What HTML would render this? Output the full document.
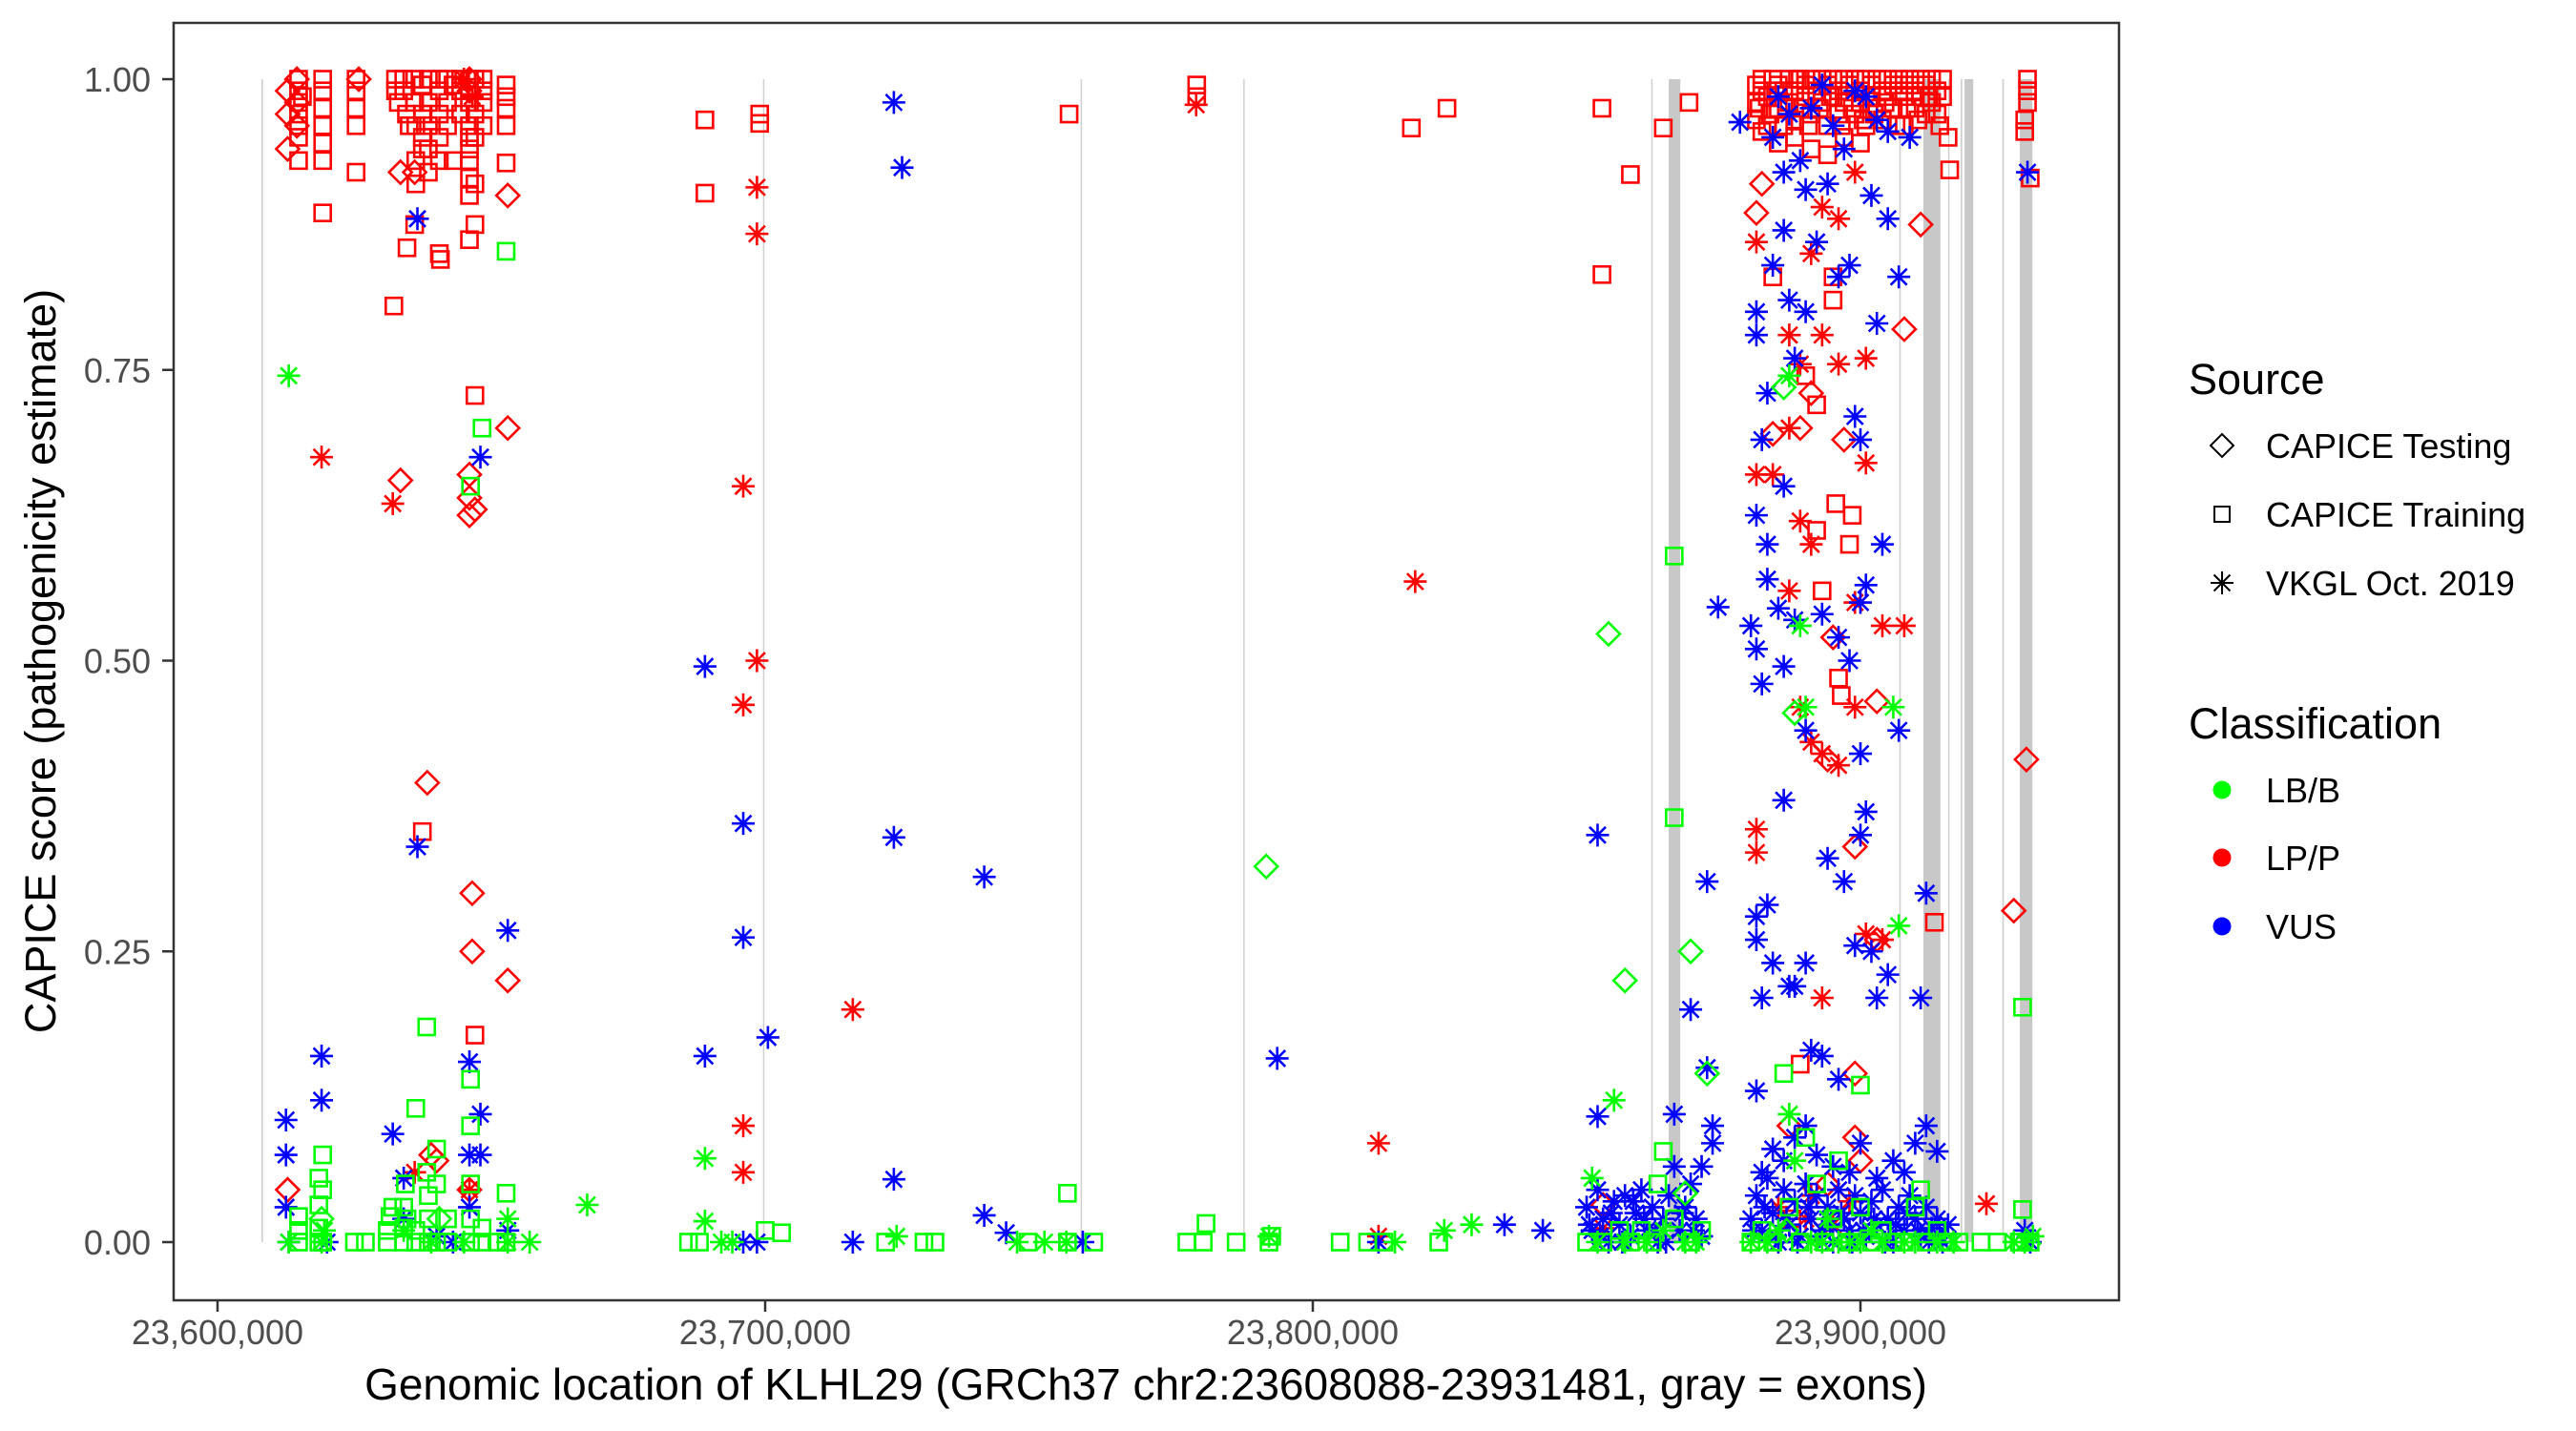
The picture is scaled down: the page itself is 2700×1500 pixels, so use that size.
<!DOCTYPE html>
<html><head><meta charset="utf-8">
<style>
html,body{margin:0;padding:0;background:#fff;}
svg{display:block;font-family:"Liberation Sans",Arial,sans-serif;}
</style></head>
<body>
<svg id="chart" width="2700" height="1500" viewBox="0 0 2700 1500" xmlns="http://www.w3.org/2000/svg">
<rect x="0" y="0" width="2700" height="1500" fill="#fff"/>
<g id="exons"></g>
<g id="points"></g>
<rect x="182" y="24" width="2039" height="1339" fill="none" stroke="#333" stroke-width="2.5"/>
<g id="yaxis"></g>
<g id="xaxis"></g>
<text transform="translate(58,693) rotate(-90)" text-anchor="middle" font-size="45" fill="#000">CAPICE score (pathogenicity estimate)</text>
<text x="1201" y="1467" text-anchor="middle" font-size="46" fill="#000">Genomic location of KLHL29 (GRCh37 chr2:23608088-23931481, gray = exons)</text>
<g>
<text x="2294" y="413" font-size="45">Source</text>
<path d="M2329 455 L2341 467 L2329 479 L2317 467 Z" fill="none" stroke="#000" stroke-width="2"/>
<text x="2375" y="480" font-size="36">CAPICE Testing</text>
<rect x="2321" y="531" width="16" height="16" fill="none" stroke="#000" stroke-width="2"/>
<text x="2375" y="552" font-size="36">CAPICE Training</text>
<path d="M2317 611 H2341 M2329 599 V623 M2320.5 602.5 L2337.5 619.5 M2337.5 602.5 L2320.5 619.5" stroke="#000" stroke-width="2"/>
<text x="2375" y="624" font-size="36">VKGL Oct. 2019</text>
</g>
<g>
<text x="2294" y="774" font-size="45">Classification</text>
<circle cx="2329" cy="828" r="9.5" fill="#00FF00"/>
<text x="2375" y="841" font-size="36">LB/B</text>
<circle cx="2329" cy="899" r="9.5" fill="#FF0000"/>
<text x="2375" y="912" font-size="36">LP/P</text>
<circle cx="2329" cy="971" r="9.5" fill="#0000FF"/>
<text x="2375" y="984" font-size="36">VUS</text>
</g>
</svg>
<script>
// ---- data (positions in kb on chr2, scores 0..1) ----
const xTicks = [23600, 23700, 23800, 23900];
const xTickLabels = ["23,600,000", "23,700,000", "23,800,000", "23,900,000"];
const yTicks = [0, 0.25, 0.5, 0.75, 1];
const yTickLabels = ["0.00", "0.25", "0.50", "0.75", "1.00"];
const exonStarts = [23608.0, 23699.6, 23757.6, 23787.3, 23861.8, 23865.0, 23907.1, 23911.5, 23916.0, 23918.3, 23919.0, 23925.9, 23929.1];
const exonEnds   = [23608.3, 23699.8, 23757.8, 23787.5, 23862.0, 23867.1, 23907.3, 23914.6, 23916.2, 23918.6, 23920.6, 23926.2, 23931.4];

const trainLP = [[23614.8,1.0],[23614.8,0.99],[23614.8,0.98],[23614.8,0.97],[23614.8,0.96],[23614.8,0.95],[23614.8,0.93],[23615.5,0.985],
[23619.2,1.0],[23619.2,0.99],[23619.2,0.975],[23619.2,0.96],[23619.2,0.945],[23619.2,0.93],[23619.2,0.885],[23625.3,1.0],[23625.3,0.99],[23625.3,0.975],[23625.3,0.96],[23625.3,0.92],
[23632.2,0.805],[23632.5,1.0],[23632.5,0.99],[23633,0.98],[23634,1.0],[23634,0.99],[23634.5,0.97],[23634.6,0.855],[23635,0.96],[23636,1.0],[23636,0.98],[23636.2,0.96],[23636.2,0.93],[23636.2,0.91],[23636,0.875],
[23637.4,0.995],[23637.4,0.97],[23637.4,0.95],[23637.4,0.94],[23637.4,0.353],[23638.5,1.0],[23638.5,0.98],[23638.5,0.96],[23638.5,0.94],[23638.5,0.92],[23640.5,1.0],[23640.5,0.99],[23640.5,0.97],[23640.5,0.95],[23640.5,0.93],[23640.5,0.85],[23640.7,0.845],
[23642,1.0],[23642,0.98],[23642,0.96],[23643,0.93],[23643,0.995],[23644.4,1.0],[23644.4,0.99],[23644.4,0.97],[23646,1.0],[23646,0.99],[23646,0.98],[23646,0.96],[23646,0.95],[23646,0.94],[23646,0.93],[23646,0.915],[23646,0.9],[23646,0.862],
[23647,1.0],[23647,0.97],[23647,0.95],[23647,0.91],[23647,0.875],[23647,0.728],[23647,0.178],[23648.5,1.0],[23648.5,0.99],[23648.5,0.98],[23648.5,0.96],[23652.7,0.995],[23652.7,0.985],[23652.7,0.975],[23652.7,0.96],[23652.7,0.928],
[23689,0.965],[23689,0.902],[23699,0.97],[23699,0.962],[23755.5,0.97],[23778.8,0.995],[23778.8,0.985],[23818,0.958],[23824.5,0.975],[23852.8,0.975],[23852.8,0.832],[23858,0.918],[23864,0.958],[23868.7,0.98],
[23881,0.995],[23881,0.98],[23881,0.965],[23882,1.0],[23882,0.99],[23882,0.955],[23883,0.985],[23883.5,0.97],[23884,1.0],[23884,0.83],[23885,0.995],[23885,0.975],[23886,0.99],[23886,0.96],[23887,1.0],[23887,0.98],[23888,0.99],[23888,0.965],[23889,1.0],[23889,0.975],
[23890,0.995],[23890,0.985],[23890,0.745],[23891,1.0],[23891,0.97],[23892,0.99],[23892,0.72],[23892,0.612],[23893,1.0],[23893,0.98],[23893,0.56],[23894,0.995],[23894,0.96],[23895,1.0],[23895,0.985],[23895,0.81],[23895,0.83],[23895.5,0.635],
[23896,0.99],[23896,0.97],[23896,0.485],[23896.5,0.47],[23897,1.0],[23897,0.98],[23898,0.995],[23898,0.6],[23898.5,0.625],[23899,1.0],[23899,0.97],[23900,0.99],[23900,0.98],[23901,1.0],[23901,0.96],[23902,0.995],[23902,0.985],[23903,1.0],[23903,0.975],
[23904,0.99],[23904,0.965],[23905,1.0],[23905,0.985],[23906,0.995],[23906,0.975],[23907,1.0],[23907,0.99],[23908,0.985],[23908,0.96],[23909,1.0],[23909,0.995],[23910,0.99],[23910,0.975],[23911,1.0],[23911,0.985],[23912,0.995],[23912,0.97],[23913,1.0],[23913,0.98],[23913.5,0.275],
[23914,0.99],[23914,0.97],[23915,1.0],[23915,0.985],[23916,0.95],[23916.3,0.922],[23889,0.153],[23887.5,0.02],[23930.5,1.0],[23930.5,0.99],[23930.5,0.98],[23930,0.965],[23930,0.955],[23931,0.915],
[23881.5,0.975],[23883,0.96],[23884.5,0.99],[23886.5,0.975],[23888.5,1.0],[23890.5,0.96],[23892.5,0.975],[23894.5,0.985],[23896.5,0.96],[23898.5,0.975],[23900.5,0.965],[23902.5,0.97],[23904.5,0.98],[23906.5,0.96],[23908.5,0.975],[23910.5,0.965],[23912.5,0.985],[23914.5,0.96],
[23885,0.945],[23888,0.95],[23891,0.94],[23894,0.935],[23897,0.95],[23900,0.945]];
const trainLB = [[23614.8,0.0],[23614.8,0.01],[23614.8,0.022],[23618.5,0.055],[23618.5,0.032],[23618.5,0.012],[23618.5,0.0],[23619.2,0.075],[23619.2,0.045],[23619.2,0.0],[23625,0.0],[23627,0.0],[23631,0.0],[23631,0.01],[23631.5,0.022],[23632,0.03],
[23634,0.0],[23634,0.012],[23634,0.03],[23634.3,0.05],[23634.6,0.02],[23636.2,0.115],[23636.2,0.01],[23636.2,0.0],[23638.2,0.185],[23638.2,0.06],[23638.5,0.04],[23638.5,0.02],[23638.5,0.0],[23640,0.08],[23640,0.05],[23640,0.0],[23642,0.0],[23642,0.02],
[23646.2,0.65],[23646.2,0.14],[23646.2,0.1],[23646.2,0.05],[23646.2,0.0],[23646.2,0.02],[23648.3,0.7],[23648.3,0.0],[23648.3,0.012],[23652.7,0.852],[23652.7,0.042],[23652.7,0.0],[23651,0.0],
[23686,0.0],[23688,0.0],[23700,0.01],[23703,0.008],[23722,0.0],[23729,0.0],[23731,0.0],[23748,0.0],[23755.2,0.042],[23755.2,0.0],[23760,0.0],[23777,0.0],[23780,0.0],[23780.5,0.016],[23786,0.0],[23792,0.0],[23792.5,0.005],[23805,0.0],[23810,0.0],[23813,0.0],[23823,0.0],
[23866,0.59],[23866,0.365],[23864,0.078],[23863,0.05],[23860,0.01],[23850,0.0],[23853,0.0],[23856,0.01],[23858,0.0],[23862,0.0],[23866,0.02],[23869,0.0],[23871,0.01],
[23880,0.0],[23882,0.01],[23884,0.0],[23886,0.145],[23887,0.03],[23889,0.0],[23890,0.09],[23892,0.05],[23893.5,0.0],[23895,0.02],[23896,0.07],[23898,0.0],[23900,0.135],[23900,0.03],[23902,0.0],[23904,0.01],[23906,0.0],[23908,0.0],
[23910,0.03],[23911,0.045],[23912,0.0],[23914,0.01],[23916,0.0],[23918,0.0],[23922,0.0],[23925,0.0],[23929.6,0.202],[23929.6,0.028],[23929,0.0],[23931,0.0]];
const testLP = [[23612.8,0.99],[23612.8,0.97],[23612.8,0.94],[23612.8,0.045],[23614.5,1.0],[23614.5,0.98],[23614.5,0.96],[23625.8,1.0],[23633.4,0.92],[23633.4,0.655],[23636,0.92],[23638.3,0.395],[23639,0.075],[23640,0.07],
[23646,0.66],[23646,0.64],[23646,0.625],[23646.5,0.3],[23646,0.045],[23646.5,0.25],[23647,0.63],[23653,0.9],[23653,0.7],[23653,0.225],[23646,1.0],[23646,0.99],
[23881,0.885],[23882,0.91],[23884,0.695],[23891,0.73],[23889,0.7],[23897,0.69],[23895,0.52],[23894,0.415],[23899,0.34],[23899,0.145],[23899,0.09],[23903,0.465],[23903,0.26],[23908,0.785],[23911,0.875],[23928,0.285],[23930.3,0.415],[23887,0.1],[23853,0.032],[23894,0.05],[23900,0.07]];
const testLB = [[23791.5,0.323],[23854,0.523],[23857,0.225],[23869,0.25],[23872,0.145],[23868,0.042],[23886,0.735],[23888,0.455],[23886.5,0.01],[23640.5,0.02],[23619,0.02]];
const vkglLP = [[23619,0.675],[23632,0.635],[23636,0.06],[23645,1.0],[23646,0.045],[23646.5,0.985],[23696,0.65],[23696,0.462],[23696,0.1],[23696,0.06],[23698.5,0.907],[23698.5,0.867],[23698.5,0.5],[23716,0.2],[23778.7,0.978],[23812,0.085],[23812,0.005],[23818.7,0.568],
[23881,0.86],[23881,0.66],[23881,0.355],[23881,0.335],[23884,0.66],[23887,0.78],[23887,0.7],[23887,0.56],[23889,0.755],[23889,0.62],[23889,0.46],[23891,0.85],[23891,0.6],[23891,0.43],[23891,0.04],[23893,0.89],[23893,0.78],[23893,0.42],[23893,0.21],
[23896,0.88],[23896,0.755],[23896,0.41],[23899,0.92],[23899,0.55],[23899,0.46],[23901,0.76],[23901,0.67],[23901,0.265],[23904,0.53],[23904,0.26],[23908,0.53],[23923,0.033],[23885,0.03],[23890,0.02],[23895,0.015],[23853,0.012],[23898,0.035]];
const vkglLB = [[23613,0.745],[23613,0.0],[23619,0.0],[23619.5,0.01],[23634,0.01],[23639,0.0],[23645,0.0],[23657,0.0],[23667.5,0.032],[23653,0.0],[23653,0.02],[23689,0.072],[23689,0.018],[23692,0.0],[23694,0.0],[23724,0.005],[23746,0.0],[23751,0.0],[23755,0.0],[23792,0.005],[23815,0.0],[23824,0.01],[23829,0.015],
[23851,0.055],[23852,0.0],[23855,0.122],[23857,0.0],[23861,0.0],[23864,0.01],[23868,0.0],[23870,0.0],[23880,0.0],[23883,0.0],[23885,0.01],[23887,0.11],[23888,0.07],[23889,0.53],[23890,0.46],[23891,0.0],[23893,0.0],[23894,0.02],[23896,0.0],[23898,0.0],
[23900,0.0],[23902,0.01],[23904,0.0],[23906,0.46],[23907,0.272],[23908,0.0],[23910,0.0],[23914,0.0],[23917,0.0],[23928,0.0],[23930,0.0],[23931.5,0.005],[23887,0.745]];
const vkglVUS = [[23612.5,0.105],[23612.5,0.075],[23612.5,0.03],[23613,0.0],[23619,0.16],[23619,0.122],[23620,0.0],[23632,0.093],[23634,0.055],[23634,0.02],[23636.5,0.88],[23636.5,0.34],[23640,0.005],[23643,0.0],[23646,0.155],[23646,0.075],[23646,0.03],[23648,0.675],[23648,0.11],[23648,0.075],[23653,0.268],[23653,0.01],
[23689,0.495],[23689,0.16],[23696,0.36],[23696,0.262],[23696,0.0],[23698.5,0.0],[23700.5,0.176],[23716,0.0],[23723.5,0.98],[23723.5,0.348],[23723.5,0.054],[23725,0.924],[23740,0.314],[23740,0.023],[23744,0.008],[23758,0.0],[23793.5,0.158],[23812,0.0],[23835,0.015],[23842,0.01],[23852,0.35],[23852,0.108],[23878,0.963],
[23850,0.03],[23851,0.01],[23852,0.045],[23853,0.02],[23854,0.0],[23855,0.035],[23856,0.015],[23857,0.04],[23858,0.005],[23859,0.025],[23860,0.045],[23861,0.01],[23862,0.03],[23863,0.0],[23864,0.02],[23865,0.04],[23866,0.065],[23867,0.01],[23868,0.03],[23869,0.05],[23870,0.02],[23871,0.005],
[23850.5,0.015],[23852.5,0.005],[23854.5,0.025],[23856.5,0.0],[23858.5,0.035],[23860.5,0.02],[23862.5,0.01],[23864.5,0.0],[23867.5,0.025],[23869.5,0.01],
[23866,0.11],[23869,0.2],[23872,0.31],[23872,0.15],[23873,0.1],[23873,0.085],[23874,0.546],[23871,0.065],
[23880,0.02],[23881,0.04],[23882,0.01],[23883,0.055],[23884,0.025],[23885,0.0],[23886,0.045],[23887,0.015],[23888,0.035],[23889,0.005],[23890,0.05],[23891,0.02],[23892,0.04],[23893,0.01],[23894,0.03],[23895,0.0],[23896,0.045],[23897,0.02],[23898,0.01],[23899,0.04],
[23900,0.025],[23901,0.005],[23902,0.035],[23903,0.015],[23904,0.045],[23905,0.02],[23906,0.0],[23907,0.03],[23908,0.01],[23909,0.04],[23910,0.02],[23911,0.005],[23912,0.03],[23913,0.012],[23914,0.02],[23915,0.0],[23916,0.015],[23930,0.01],[23931,0.0],
[23880.5,0.01],[23882.5,0.03],[23884.5,0.005],[23886.5,0.02],[23888.5,0.0],[23890.5,0.03],[23892.5,0.005],[23894.5,0.015],[23896.5,0.025],[23898.5,0.0],[23900.5,0.01],[23902.5,0.02],[23904.5,0.0],[23906.5,0.015],[23908.5,0.025],[23910.5,0.01],[23912.5,0.0],[23914.5,0.005],
[23881,0.13],[23882,0.06],[23884,0.08],[23886,0.07],[23888,0.09],[23890,0.1],[23892,0.075],[23895,0.065],[23898,0.06],[23900,0.085],[23903,0.055],[23906,0.07],[23908,0.06],[23910,0.085],[23912,0.1],[23914,0.078],[23911,0.21],[23912,0.3],[23930.5,0.92],
[23881,0.28],[23881,0.26],[23882,0.21],[23883,0.29],[23884,0.24],[23886,0.38],[23887,0.22],[23888,0.22],[23890,0.24],[23891,0.165],[23893,0.16],[23894,0.33],[23896,0.14],[23897,0.31],[23899,0.255],[23900,0.35],[23900,0.42],[23901,0.37],[23902,0.25],[23903,0.21],[23905,0.23],[23907,0.44],
[23880,0.53],[23881,0.51],[23882,0.48],[23883,0.57],[23885,0.545],[23886,0.495],[23888,0.535],[23890,0.44],[23893,0.54],[23896,0.52],[23898,0.5],[23900,0.55],[23901,0.565],[23904,0.6],[23883,0.6],[23881,0.625],[23886,0.65],
[23881,0.78],[23881,0.8],[23882,0.69],[23883,0.73],[23884,0.84],[23886,0.87],[23887,0.81],[23888,0.76],[23890,0.8],[23892,0.86],[23894,0.91],[23896,0.83],[23898,0.84],[23899,0.71],[23900,0.69],[23902,0.9],[23903,0.79],[23905,0.88],[23907,0.83],[23909,0.95],
[23884,0.95],[23885,0.985],[23887,0.97],[23889,0.93],[23891,0.975],[23893,0.995],[23895,0.96],[23897,0.94],[23899,0.99],[23901,0.985],[23903,0.965],[23905,0.955],[23890,0.905],[23886,0.92]];

// ---- scales ----
const X0 = 23600, PX0 = 228, PXK = 5.74;
function xs(kb){ return PX0 + (kb - X0) * PXK; }
function ys(v){ return 1302 - v * 1219; }
const NS = "http://www.w3.org/2000/svg";
const COL = {LB:"#00FF00", LP:"#FF0000", VUS:"#0000FF"};

// exons
const exG = document.getElementById("exons");
for (let i = 0; i < exonStarts.length; i++) {
  const x1 = xs(exonStarts[i]), x2 = xs(exonEnds[i]);
  const r = document.createElementNS(NS, "rect");
  
  
  const w = Math.max(x2 - x1, 1.5);
  r.setAttribute("x", x1); r.setAttribute("width", w);
  r.setAttribute("y", ys(1)); r.setAttribute("height", ys(0) - ys(1));
  r.setAttribute("fill", w > 3 ? "#C8C8C8" : "#CFCFCF");
  exG.appendChild(r);
}

// axes
const yG = document.getElementById("yaxis");
yTicks.forEach((v, i) => {
  const l = document.createElementNS(NS, "line");
  
  
  l.setAttribute("x1", 170); l.setAttribute("x2", 182); l.setAttribute("y1", ys(v)); l.setAttribute("y2", ys(v));
  l.setAttribute("stroke", "#333"); l.setAttribute("stroke-width", "2.5");
  yG.appendChild(l);
  const t = document.createElementNS(NS, "text");
  
  
  t.setAttribute("x", 158); t.setAttribute("y", ys(v) + 13); t.setAttribute("text-anchor", "end");
  t.setAttribute("font-size", "36"); t.setAttribute("fill", "#4D4D4D");
  t.textContent = yTickLabels[i];
  yG.appendChild(t);
});
const xG = document.getElementById("xaxis");
xTicks.forEach((v, i) => {
  const l = document.createElementNS(NS, "line");
  
  
  l.setAttribute("x1", xs(v)); l.setAttribute("x2", xs(v)); l.setAttribute("y1", 1363); l.setAttribute("y2", 1375);
  l.setAttribute("stroke", "#333"); l.setAttribute("stroke-width", "2.5");
  xG.appendChild(l);
  const t = document.createElementNS(NS, "text");
  
  
  t.setAttribute("x", xs(v)); t.setAttribute("y", 1409); t.setAttribute("text-anchor", "middle");
  t.setAttribute("font-size", "36"); t.setAttribute("fill", "#4D4D4D");
  t.textContent = xTickLabels[i];
  xG.appendChild(t);
});

// points
const pG = document.getElementById("points");
function mark(shape, cls, d) {
  const cx = xs(d[0]), cy = ys(d[1]);
  let el;
  if (shape === "sq") {
    el = document.createElementNS(NS, "rect");
    el.setAttribute("x", cx - 8.5); el.setAttribute("y", cy - 8.5); el.setAttribute("width", 17); el.setAttribute("height", 17);
  } else if (shape === "di") {
    el = document.createElementNS(NS, "path");
    el.setAttribute("d", `M${cx} ${cy-12}L${cx+12} ${cy}L${cx} ${cy+12}L${cx-12} ${cy}Z`);
  } else {
    el = document.createElementNS(NS, "path");
    el.setAttribute("d", `M${cx-12} ${cy}H${cx+12}M${cx} ${cy-12}V${cy+12}M${cx-8.5} ${cy-8.5}L${cx+8.5} ${cy+8.5}M${cx+8.5} ${cy-8.5}L${cx-8.5} ${cy+8.5}`);
  }
  
  
  el.setAttribute("fill", "none"); el.setAttribute("stroke", COL[cls]); el.setAttribute("stroke-width", "2.6");
  pG.appendChild(el);
}
trainLP.forEach(d => mark("sq", "LP", d));
testLP.forEach(d => mark("di", "LP", d));
vkglLP.forEach(d => mark("as", "LP", d));
vkglVUS.forEach(d => mark("as", "VUS", d));
trainLB.forEach(d => mark("sq", "LB", d));
testLB.forEach(d => mark("di", "LB", d));
vkglLB.forEach(d => mark("as", "LB", d));
</script>
</body></html>
